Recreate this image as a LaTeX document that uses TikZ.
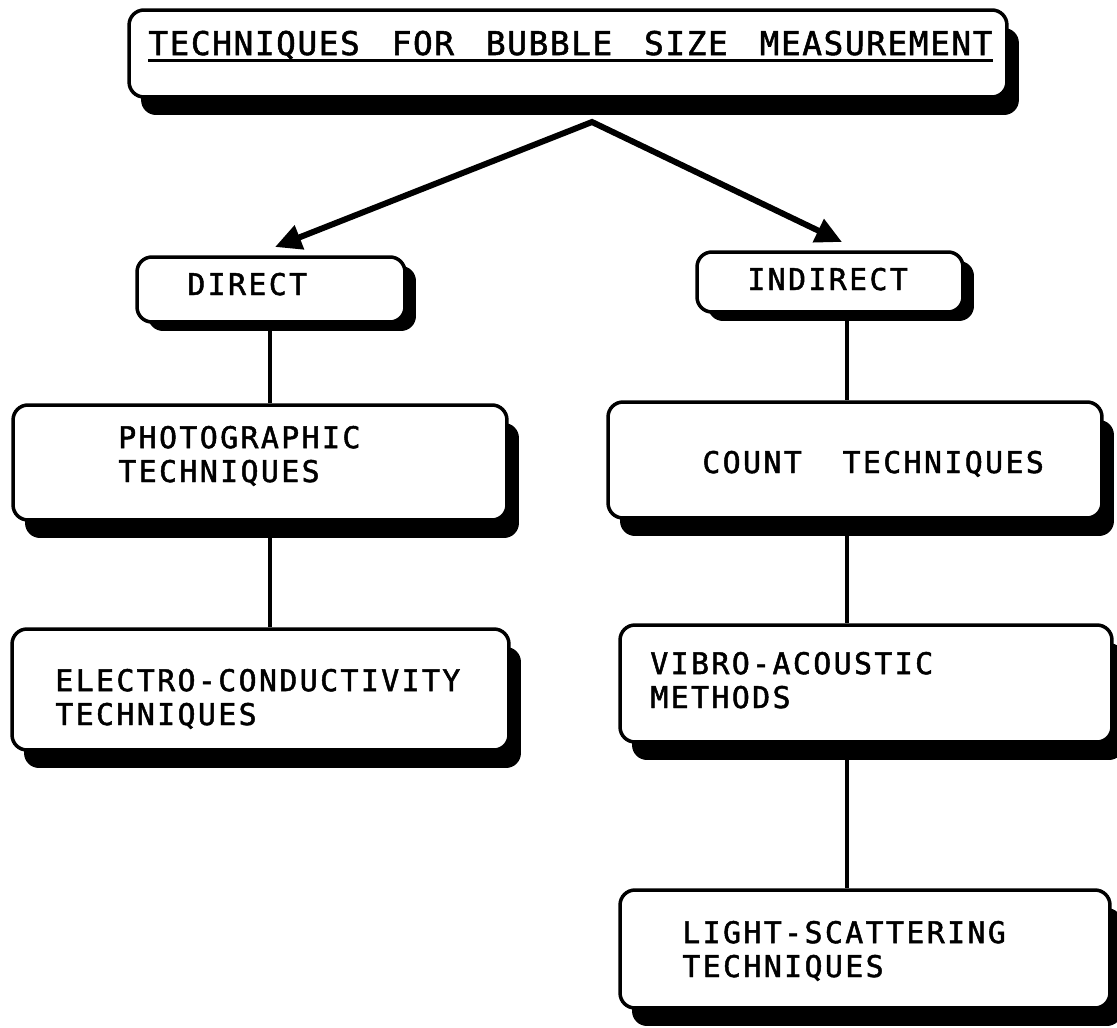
\documentclass[tikz,border=0pt]{standalone}
\usepackage{fontspec}
\usetikzlibrary{shadows,arrows.meta,calc}
\newfontfamily\plotfont[LetterSpace=8,FakeBold=1.6]{DejaVu Sans Mono}
\newfontfamily\titlefont[LetterSpace=5,WordSpace=1.5,FakeBold=1.6]{DejaVu Sans Mono}
\tikzset{
  box/.style={draw, line width=2pt, rounded corners=8.5pt, fill=white, inner sep=0pt},
  bigshadow/.style={drop shadow={shadow xshift=0.24cm, shadow yshift=-0.36cm, fill=black, opacity=1}},
  smallshadow/.style={drop shadow={shadow xshift=0.22cm, shadow yshift=-0.18cm, fill=black, opacity=1}},
  lbl/.style={inner sep=0pt, anchor=base west, align=left, font=\plotfont\fontsize{17}{19.3}\selectfont},
  ttl/.style={inner sep=0pt, anchor=base west, font=\titlefont\fontsize{18.6}{21}\selectfont},
  link/.style={line width=2.1pt},
  arr/.style={line width=3.4pt, line join=miter, {Triangle[length=15pt,width=14pt]}-{Triangle[length=15pt,width=14pt]}}
}
\begin{document}
\begin{tikzpicture}[x=0.02cm, y=-0.02cm]
\useasboundingbox[fill=white] (0,0) rectangle (1117,1028);
% boxes
\node[box, bigshadow, minimum width=17.56cm, minimum height=1.74cm] (title) at (568,53.5) {};
\node[box, smallshadow, minimum width=5.36cm, minimum height=1.30cm] (direct) at (271,289.5) {};
\node[box, smallshadow, minimum width=5.32cm, minimum height=1.20cm] (indirect) at (830,282) {};
\node[box, bigshadow, minimum width=9.88cm, minimum height=2.30cm] (photo) at (260,462.5) {};
\node[box, bigshadow, minimum width=9.94cm, minimum height=2.42cm] (electro) at (260.5,689.5) {};
\node[box, bigshadow, minimum width=9.88cm, minimum height=2.32cm] (count) at (855,460) {};
\node[box, bigshadow, minimum width=9.84cm, minimum height=2.34cm] (vibro) at (866,683.5) {};
\node[box, bigshadow, minimum width=9.80cm, minimum height=2.36cm] (light) at (865,949) {};
% texts
\node[ttl] (ttltext) at (148,55) {TECHNIQUES FOR BUBBLE SIZE MEASUREMENT};
\draw[line width=1.8pt] ([yshift=-0.11cm]ttltext.base west) -- ([yshift=-0.11cm]ttltext.base east);
\node[lbl] (tdirect) at (187,295) {DIRECT};
\node[lbl] (tindirect) at (747,290) {INDIRECT};
\node[lbl] (tphoto) at (118,482) {PHOTOGRAPHIC\\TECHNIQUES};
\node[lbl] (telectro) at (55,725) {ELECTRO-CONDUCTIVITY\\TECHNIQUES};
\node[lbl] (tcount) at (702,473) {COUNT\ \ TECHNIQUES};
\node[lbl] (tvibro) at (650,708) {VIBRO-ACOUSTIC\\METHODS};
\node[lbl] (tlight) at (682,977) {LIGHT-SCATTERING\\TECHNIQUES};
% connectors
\coordinate (apex) at (592,122);
\coordinate (tipL) at (275,247);
\coordinate (tipR) at (842,242);
\draw[arr] (tipL) -- (apex) -- (tipR);
\coordinate (lcol) at (270,0);
\coordinate (rcol) at (847,0);
\draw[link] (direct.south -| lcol) -- (photo.north -| lcol);
\draw[link] (photo.south -| lcol) -- (electro.north -| lcol);
\draw[link] (indirect.south -| rcol) -- (count.north -| rcol);
\draw[link] (count.south -| rcol) -- (vibro.north -| rcol);
\draw[link] (vibro.south -| rcol) -- (light.north -| rcol);
\end{tikzpicture}
\end{document}
